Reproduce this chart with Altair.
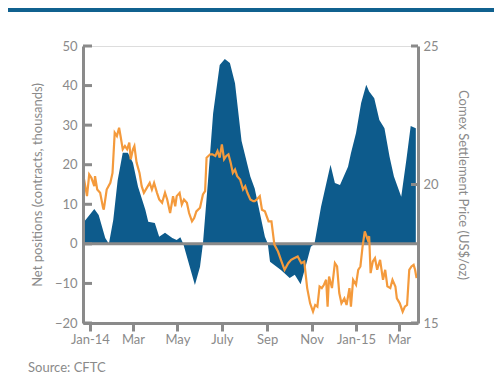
import altair as alt
import pandas as pd

# ---- Data ----
# Net positions (contracts, thousands) - blue area
pos_dates = [
    "2013-12-24", "2014-01-07", "2014-01-13", "2014-01-22", "2014-01-27", "2014-02-02",
    "2014-02-08", "2014-02-15", "2014-02-22", "2014-03-01", "2014-03-08", "2014-03-18",
    "2014-03-22", "2014-03-31", "2014-04-06", "2014-04-14", "2014-04-24", "2014-04-30",
    "2014-05-05", "2014-05-09", "2014-05-25", "2014-06-01", "2014-06-05", "2014-06-12",
    "2014-06-19", "2014-06-28", "2014-07-05", "2014-07-12", "2014-07-19", "2014-07-28",
    "2014-08-09", "2014-08-15", "2014-08-29", "2014-09-02", "2014-09-05", "2014-09-20",
    "2014-10-02", "2014-10-09", "2014-10-17", "2014-10-25", "2014-10-31", "2014-11-05",
    "2014-11-14", "2014-11-27", "2014-12-03", "2014-12-10", "2014-12-21", "2014-12-25",
    "2015-01-01", "2015-01-08", "2015-01-15", "2015-01-19", "2015-01-26", "2015-02-02",
    "2015-02-09", "2015-02-16", "2015-02-22", "2015-03-04", "2015-03-11", "2015-03-17",
    "2015-03-24",
]
pos_values = [
    5.6, 8.8, 7.3, 1.5, 0.0, 6.0,
    16.0, 23.0, 23.0, 20.5, 14.4, 8.6,
    5.6, 5.3, 1.8, 2.8, 1.5, 1.0,
    1.7, 0.0, -10.4, -5.8, 0.0, 16.0,
    33.0, 45.2, 46.7, 45.7, 40.6, 26.0,
    17.0, 14.0, 1.8, 0.0, -4.5, -6.6,
    -8.6, -7.8, -10.2, -4.9, -0.7, 0.0,
    9.4, 20.0, 15.4, 14.9, 19.5, 22.9,
    28.0, 35.6, 40.2, 38.5, 36.8, 31.3,
    29.2, 22.0, 17.0, 11.9, 21.2, 29.8,
    29.2,
]

# Comex settlement price (US$/oz) - orange line
price_dates = [
    "2013-12-24", "2013-12-28", "2013-12-31", "2014-01-03", "2014-01-07", "2014-01-08",
    "2014-01-11", "2014-01-15", "2014-01-19", "2014-01-20", "2014-01-24", "2014-01-29",
    "2014-02-01", "2014-02-04", "2014-02-07", "2014-02-10", "2014-02-12", "2014-02-15",
    "2014-02-18", "2014-02-21", "2014-02-24", "2014-02-26", "2014-03-01", "2014-03-03",
    "2014-03-06", "2014-03-10", "2014-03-13", "2014-03-16", "2014-03-20", "2014-03-24",
    "2014-03-27", "2014-03-30", "2014-04-03", "2014-04-06", "2014-04-10", "2014-04-14",
    "2014-04-17", "2014-04-21", "2014-04-25", "2014-04-28", "2014-04-30", "2014-05-04",
    "2014-05-07", "2014-05-10", "2014-05-14", "2014-05-17", "2014-05-21", "2014-05-24",
    "2014-05-27", "2014-06-01", "2014-06-05", "2014-06-08", "2014-06-10", "2014-06-15",
    "2014-06-18", "2014-06-22", "2014-06-25", "2014-06-28", "2014-07-01", "2014-07-04",
    "2014-07-07", "2014-07-10", "2014-07-13", "2014-07-16", "2014-07-19", "2014-07-22",
    "2014-07-26", "2014-07-30", "2014-08-02", "2014-08-05", "2014-08-09", "2014-08-13",
    "2014-08-15", "2014-08-18", "2014-08-20", "2014-08-22", "2014-08-25", "2014-08-29",
    "2014-09-03", "2014-09-07", "2014-09-11", "2014-09-16", "2014-09-20", "2014-09-25",
    "2014-09-30", "2014-10-04", "2014-10-08", "2014-10-13", "2014-10-18", "2014-10-22",
    "2014-10-26", "2014-10-30", "2014-11-03", "2014-11-06", "2014-11-09", "2014-11-12",
    "2014-11-15", "2014-11-18", "2014-11-21", "2014-11-23", "2014-11-25", "2014-11-29",
    "2014-12-03", "2014-12-06", "2014-12-09", "2014-12-12", "2014-12-16", "2014-12-19",
    "2014-12-23", "2014-12-25", "2014-12-28", "2015-01-01", "2015-01-04", "2015-01-07",
    "2015-01-10", "2015-01-13", "2015-01-17", "2015-01-19", "2015-01-21", "2015-01-24",
    "2015-01-27", "2015-01-30", "2015-02-03", "2015-02-07", "2015-02-10", "2015-02-13",
    "2015-02-17", "2015-02-20", "2015-02-24", "2015-02-26", "2015-03-02", "2015-03-06",
    "2015-03-09", "2015-03-12", "2015-03-15", "2015-03-18", "2015-03-21", "2015-03-23",
    "2015-03-25",
]
price_values = [
    20.18, 19.58, 20.36, 20.24, 19.94, 20.30,
    19.82, 19.70, 19.16, 19.09, 19.82, 20.06,
    20.42, 21.87, 21.75, 22.05, 21.75, 21.27,
    21.39, 21.27, 21.51, 20.91, 21.27, 21.39,
    20.79, 20.42, 19.94, 19.70, 19.88, 20.06,
    19.82, 20.06, 19.70, 19.46, 19.34, 19.70,
    19.46, 18.97, 19.58, 19.21, 19.58, 19.70,
    19.28, 19.46, 19.34, 18.97, 18.67, 18.79,
    19.03, 19.16, 19.64, 19.76, 20.97, 21.09,
    21.09, 21.03, 21.21, 20.97, 21.45, 20.91,
    21.03, 21.09, 20.79, 20.42, 20.54, 20.30,
    20.18, 19.82, 19.94, 19.70, 19.46, 19.40,
    19.40, 19.46, 19.52, 19.58, 19.09, 19.03,
    18.67, 18.67, 17.83, 17.58, 17.28, 16.92,
    17.16, 17.28, 17.34, 17.40, 17.16, 17.22,
    16.26, 15.71, 15.41, 15.65, 15.59, 16.32,
    16.26, 16.38, 16.56, 15.59, 16.68, 16.26,
    17.16, 17.04, 16.08, 15.71, 15.89, 15.65,
    16.26, 15.59, 16.56, 16.38, 16.92, 17.04,
    17.77, 18.31, 18.01, 18.13, 16.80, 17.22,
    17.34, 16.92, 17.28, 16.56, 16.92, 16.32,
    16.26, 16.56, 16.32, 15.89, 15.71, 15.41,
    15.59, 15.65, 16.92, 17.04, 17.10, 16.92,
    16.62,
]

left_ticks = [-20, -10, 0, 10, 20, 30, 40, 50]
right_ticks = [15, 20, 25]
x_tick_months = [(2014, 1), (2014, 3), (2014, 5), (2014, 7), (2014, 9), (2014, 11), (2015, 1), (2015, 3)]
x_tick_labels = ["Jan-14", "Mar", "May", "July", "Sep", "Nov", "Jan-15", "Mar"]

# ---- Styling ----
BLUE = "#0d5b8c"
ORANGE = "#f49a3c"
GREY = "#8a8a8a"
FONT = "Lato"
W, H = 335, 277

label_expr = "''"
for (yr, mo), lab in reversed(list(zip(x_tick_months, x_tick_labels))):
    label_expr = f"(utcyear(datum.value) == {yr} && utcmonth(datum.value) == {mo - 1}) ? '{lab}' : " + label_expr

x_enc = alt.X(
    "date:T",
    scale=alt.Scale(domain=[alt.DateTime(year=2013, month=12, date=22, hours=12, utc=True),
                            alt.DateTime(year=2015, month=3, date=27, utc=True)]),
    axis=alt.Axis(
        values=[alt.DateTime(year=y, month=m, date=1, utc=True) for y, m in x_tick_months],
        labelExpr=label_expr, title=None, tickSize=8, tickWidth=3, tickColor=GREY,
        domainColor=GREY, domainWidth=3, labelColor=GREY, labelFontSize=13, labelFont=FONT,
        labelPadding=2, grid=False, zindex=1,
    ),
)

pos_df = pd.DataFrame({"date": pos_dates, "value": pos_values})
price_df = pd.DataFrame({"date": price_dates, "price": price_values})

left_scale = alt.Scale(domain=[-20, 50], nice=False, zero=False)
right_scale = alt.Scale(domain=[15, 25], nice=False, zero=False)

left_axis = alt.Axis(
    values=left_ticks, title="Net positions (contracts, thousands)", tickSize=0, ticks=False,
    domainColor=GREY, domainWidth=3, labelColor=GREY, labelFontSize=13, labelFont=FONT,
    labelPadding=6, titleColor=GREY, titleFont=FONT, titleFontSize=13, titleFontWeight="normal",
    titlePadding=10, grid=False, zindex=1)

right_axis = alt.Axis(
    orient="right", values=right_ticks, title="Comex Settlement Price (US$/oz)", tickSize=0,
    ticks=False, domainColor=GREY, domainWidth=3, labelColor=GREY, labelFontSize=13,
    labelFont=FONT, labelPadding=5, titleColor=GREY, titleFont=FONT, titleFontSize=13,
    titleFontWeight="normal", titleAngle=90, titlePadding=17, grid=False, zindex=1)

area = alt.Chart(pos_df).mark_area(color=BLUE, opacity=1).encode(
    x=x_enc,
    y=alt.Y("value:Q", scale=left_scale, axis=left_axis),
    y2=alt.datum(0),
)

zero_rule = alt.Chart(pd.DataFrame({"value": [0]})).mark_rule(color=GREY, strokeWidth=3).encode(
    y=alt.Y("value:Q", scale=left_scale, axis=left_axis)
)

left_tick_rules = alt.Chart(pd.DataFrame({"value": left_ticks})).mark_rule(color=GREY, strokeWidth=3).encode(
    y=alt.Y("value:Q", scale=left_scale, axis=left_axis), x=alt.value(0), x2=alt.value(9)
)

top_bar = alt.Chart(pd.DataFrame({"a": [0]})).mark_rect(color="#10618f").encode(
    x=alt.value(-75), x2=alt.value(W + 80), y=alt.value(-38), y2=alt.value(-34)
)

left_layer = alt.layer(area, zero_rule, left_tick_rules, top_bar)

line = alt.Chart(price_df).mark_line(color=ORANGE, strokeWidth=2.2).encode(
    x=x_enc,
    y=alt.Y("price:Q", scale=right_scale, axis=right_axis),
)

right_tick_rules = alt.Chart(pd.DataFrame({"price": right_ticks})).mark_rule(color=GREY, strokeWidth=3).encode(
    y=alt.Y("price:Q", scale=right_scale, axis=right_axis), x=alt.value(W - 7), x2=alt.value(W)
)

right_layer = alt.layer(line, right_tick_rules)

chart = alt.layer(left_layer, right_layer).resolve_scale(y="independent").properties(
    width=W, height=H,
    padding={"left": 75, "top": 38, "right": 76, "bottom": 51},
    autosize=alt.AutoSizeParams(type="none"),
    title=alt.TitleParams("Source: CFTC", orient="bottom", anchor="start", frame="group",
                          fontSize=13, color=GREY, font=FONT, fontWeight="normal",
                          dx=-55, offset=16),
).configure_view(stroke=None).configure(background="white")

chart.save("out.html", embed_options={"renderer": "svg", "actions": False})
